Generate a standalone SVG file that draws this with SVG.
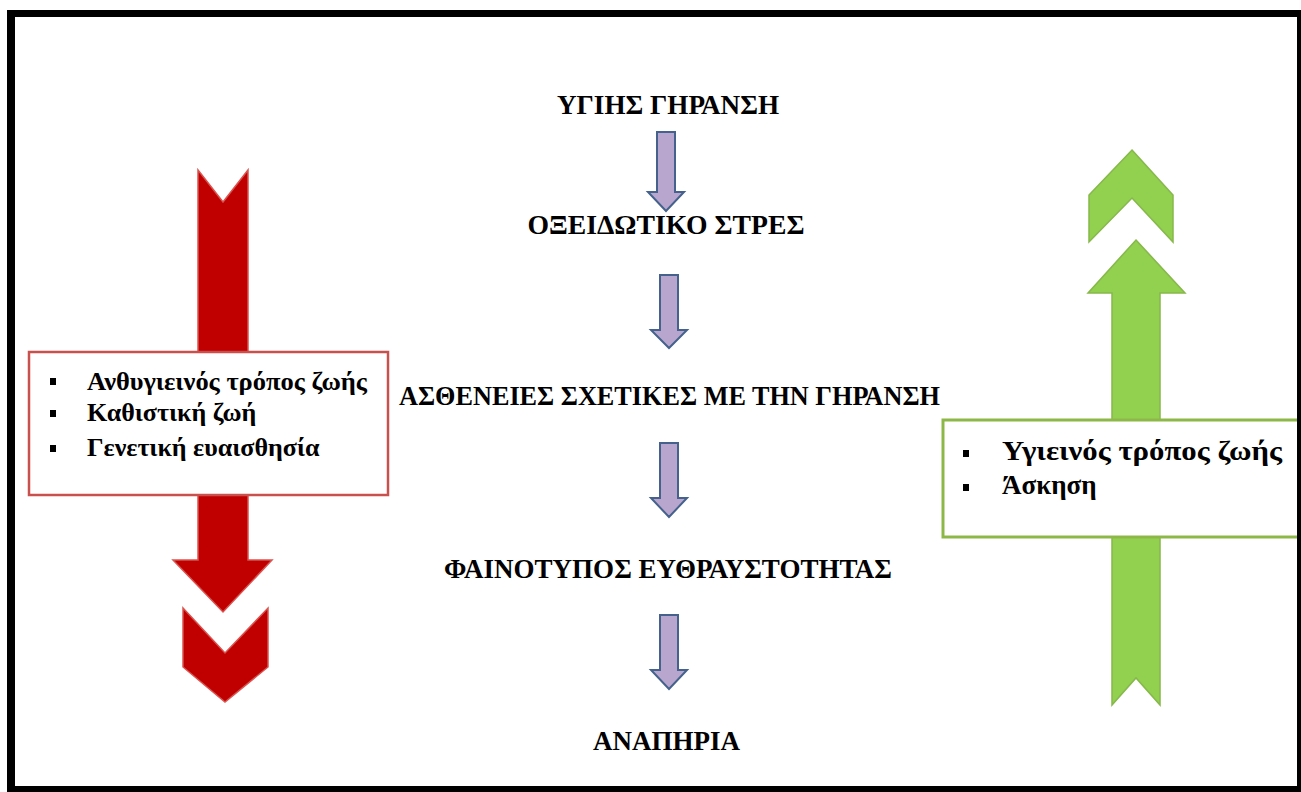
<svg xmlns="http://www.w3.org/2000/svg" width="1301" height="792" viewBox="0 0 1301 792">
<style>
.t{font-family:"Liberation Serif","Times New Roman",serif;font-weight:bold;font-size:26px;fill:#000}
.g{font-size:27px}
.c{text-anchor:middle;font-size:28px}
.down{fill:#B9A6CF;stroke:#44628C;stroke-width:2;stroke-linejoin:miter}
.red{fill:#C00000;stroke:#D9534F;stroke-width:1.5}
.grn{fill:#92D050;stroke:#86B84A;stroke-width:1.5}
.bul{fill:#000}
</style>
<rect x="0" y="0" width="1301" height="792" fill="#fff"/>
<g id="red-arrow">
<path class="red" d="M198,170 L223,202 L248,170 L248,560 L272,560 L223,612 L173,560 L198,560 Z"/>
<path class="red" d="M183,608 L225,653 L268,608 L268,667 L225,702 L183,667 Z"/>
</g>
<g id="green-arrow">
<path class="grn" d="M1136,240 L1185,293 L1160,293 L1160,705 L1136,678 L1112,705 L1112,293 L1088,293 Z"/>
<path class="grn" d="M1132,150 L1173,195 L1173,242 L1132,198 L1089,242 L1089,195 Z"/>
</g>
<g id="red-box">
<rect x="29" y="352" width="359" height="143" fill="#fff" stroke="#C9504D" stroke-width="2.5"/>
<rect class="bul" x="50" y="378" width="6" height="7"/>
<rect class="bul" x="50" y="410" width="6" height="7"/>
<rect class="bul" x="50" y="445" width="6" height="7"/>
<text class="t" x="87" y="390" textLength="280" lengthAdjust="spacingAndGlyphs">Ανθυγιεινός τρόπος ζωής</text>
<text class="t" x="87" y="421">Καθιστική ζωή</text>
<text class="t" x="87" y="456">Γενετική ευαισθησία</text>
</g>
<g id="green-box">
<rect x="943" y="420" width="370" height="117" fill="#fff" stroke="#8DB848" stroke-width="3"/>
<rect class="bul" x="963" y="450" width="6" height="7"/>
<rect class="bul" x="963" y="484" width="6" height="7"/>
<text class="t g" x="1002" y="460" textLength="280" lengthAdjust="spacingAndGlyphs">Υγιεινός τρόπος ζωής</text>
<text class="t g" x="1002" y="494">Άσκηση</text>
</g>
<g id="n1"><text class="t c" x="668" y="114" textLength="222" lengthAdjust="spacingAndGlyphs">ΥΓΙΗΣ ΓΗΡΑΝΣΗ</text></g>
<g id="n2"><text class="t c" x="666" y="234" textLength="277" lengthAdjust="spacingAndGlyphs">ΟΞΕΙΔΩΤΙΚΟ ΣΤΡΕΣ</text></g>
<g id="n3"><text class="t c" x="669.5" y="405" textLength="541" lengthAdjust="spacingAndGlyphs">ΑΣΘΕΝΕΙΕΣ ΣΧΕΤΙΚΕΣ ΜΕ ΤΗΝ ΓΗΡΑΝΣΗ</text></g>
<g id="n4"><text class="t c" x="668" y="578" textLength="448" lengthAdjust="spacingAndGlyphs">ΦΑΙΝΟΤΥΠΟΣ ΕΥΘΡΑΥΣΤΟΤΗΤΑΣ</text></g>
<g id="n5"><text class="t c" x="666.5" y="750" textLength="147" lengthAdjust="spacingAndGlyphs">ΑΝΑΠΗΡΙΑ</text></g>
<g id="connectors">
<path class="down" d="M657,132 L675,132 L675,192 L684,192 L666,211 L648,192 L657,192 Z"/>
<path class="down" d="M660,275 L678,275 L678,330 L687,330 L669,348 L651,330 L660,330 Z"/>
<path class="down" d="M660,443 L678,443 L678,498 L687,498 L669,517 L651,498 L660,498 Z"/>
<path class="down" d="M660,615 L678,615 L678,670 L687,670 L669,689 L651,670 L660,670 Z"/>
</g>
<path d="M7,10 H1301 V792 H7 Z M15,17 V786 H1297 V17 Z" fill="#000" fill-rule="evenodd"/>
</svg>
